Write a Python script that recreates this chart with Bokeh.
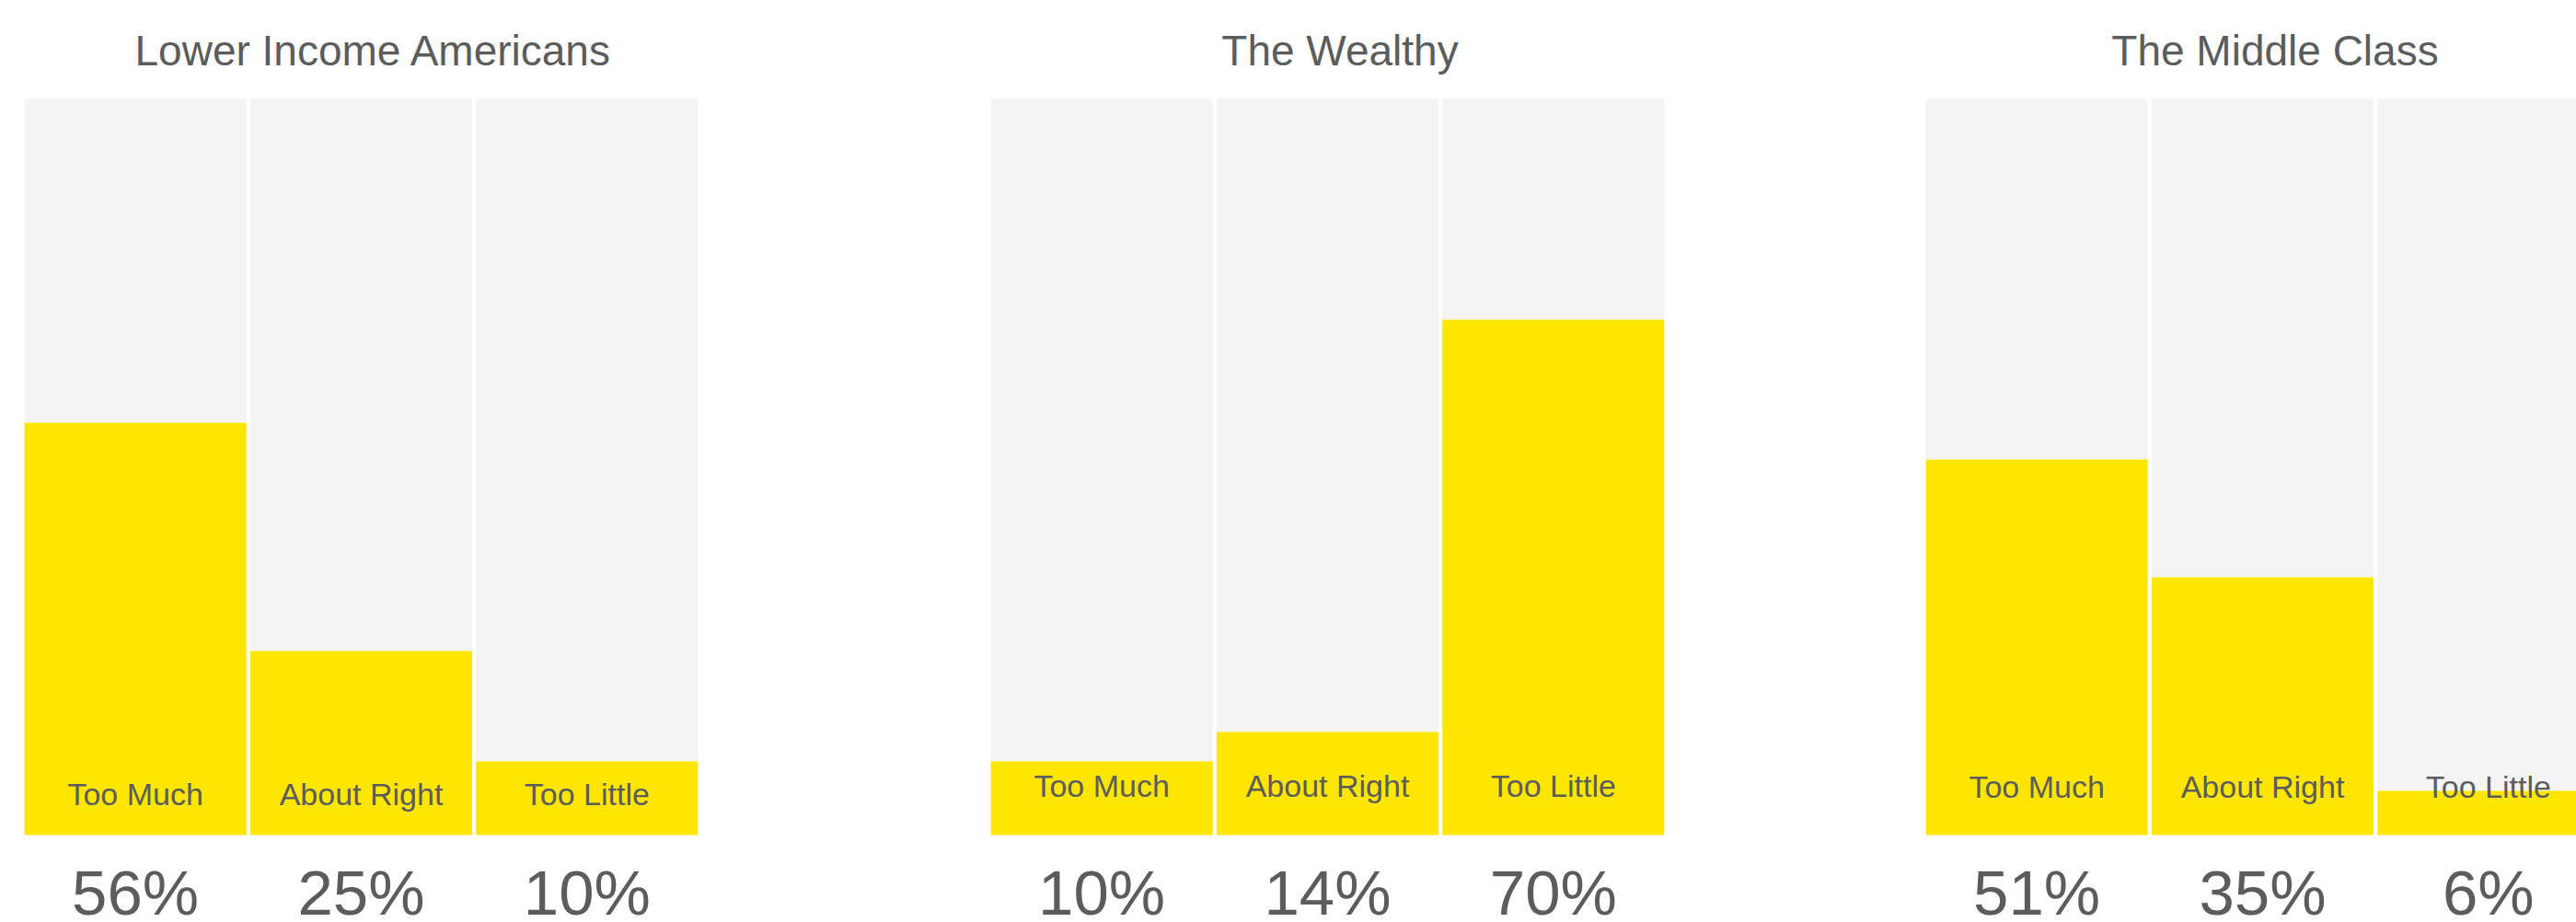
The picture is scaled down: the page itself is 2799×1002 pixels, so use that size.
from bokeh.plotting import figure
from bokeh.layouts import row
from bokeh.models import Range1d, ColumnDataSource
from bokeh.core.properties import value
from bokeh.embed import file_html
from bokeh.resources import INLINE

# ---- data ----
groups = ["Lower Income Americans", "The Wealthy", "The Middle Class"]
categories = ["Too Much", "About Right", "Too Little"]
lower_income = [56, 25, 10]
wealthy = [10, 14, 70]
middle_class = [51, 35, 6]
series = [lower_income, wealthy, middle_class]

# ---- style / layout ----
YELLOW = "#FFE600"
GREY = "#F4F4F4"
TEXT = "#5C5C5C"
FONT = "Liberation Sans"

H = 1002
PLOT_TOP_PX = 107      # pixel of 100%
PLOT_BOT_PX = 907      # pixel of 0%
px_per_unit = (PLOT_BOT_PX - PLOT_TOP_PX) / 100.0
y_lo = -(H - PLOT_BOT_PX) / px_per_unit
y_hi = 100 + PLOT_TOP_PX / px_per_unit

panel_frame = 736
px_per_col = panel_frame / 3.0
bar_w = 241 / px_per_col

# (left border, frame width, right border)
geoms = [(24, 735, 315), (0, 736, 280), (0, 709, 0)]
label_y = [(PLOT_BOT_PX - 862) / px_per_unit, (PLOT_BOT_PX - 853) / px_per_unit,
           (PLOT_BOT_PX - 854) / px_per_unit]
pct_y = (PLOT_BOT_PX - 970) / px_per_unit
title_y = (PLOT_BOT_PX - 54) / px_per_unit
title_x = 1.055

figs = []
for gi, (name, vals) in enumerate(zip(groups, series)):
    lb, fw, rb = geoms[gi]
    x_end = -0.5 + fw / px_per_col
    p = figure(width=lb + fw + rb, height=H, output_backend="svg",
               toolbar_location=None, x_range=Range1d(-0.5, x_end),
               y_range=Range1d(y_lo, y_hi),
               min_border_left=lb, min_border_right=rb,
               min_border_top=0, min_border_bottom=0)
    p.axis.visible = False
    p.grid.visible = False
    p.outline_line_color = None
    p.background_fill_color = "white"
    p.border_fill_color = "white"

    idx = list(range(len(categories)))
    src = ColumnDataSource(dict(
        x=idx, v=vals, full=[100] * len(vals), cat=categories,
        pct=[f"{v}%" for v in vals],
        ly=[label_y[gi]] * len(vals), py=[pct_y] * len(vals)))

    p.vbar(x="x", top="full", bottom=0, width=bar_w, source=src,
           fill_color=GREY, line_color=None)
    p.vbar(x="x", top="v", bottom=0, width=bar_w, source=src,
           fill_color=YELLOW, line_color=None)
    p.text(x="x", y="ly", text="cat", source=src, text_align="center",
           text_baseline="alphabetic", text_font=value(FONT),
           text_font_size="34px", text_color=TEXT)
    p.text(x="x", y="py", text="pct", source=src, text_align="center",
           text_baseline="alphabetic", text_font=value(FONT),
           text_font_size="69px", text_color=TEXT)
    p.text(x=[title_x], y=[title_y], text=[name], text_align="center",
           text_baseline="alphabetic", text_font=value(FONT),
           text_font_size="46px", text_color=TEXT)
    figs.append(p)

layout = row(*figs, spacing=0)
open("out.html", "w").write(file_html(layout, INLINE))
